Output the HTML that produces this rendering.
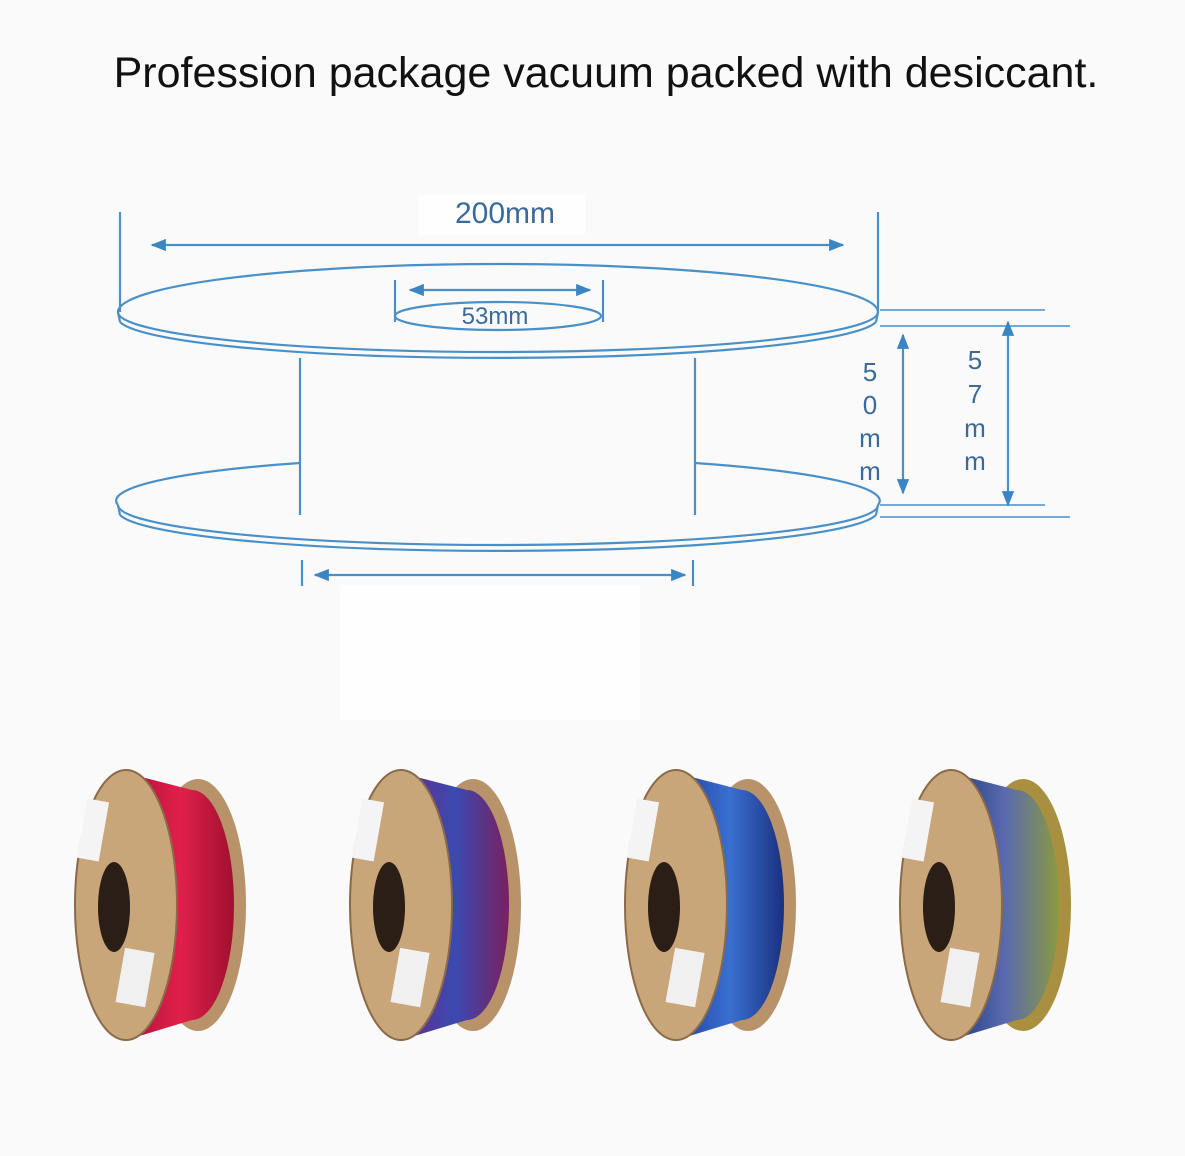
<!DOCTYPE html>
<html><head><meta charset="utf-8"><style>
html,body{margin:0;padding:0;background:#fafafa;}
svg{display:block;}
</style></head><body>
<svg width="1185" height="1156" viewBox="0 0 1185 1156" xmlns="http://www.w3.org/2000/svg">
<defs>
<marker id="a" viewBox="0 0 10 10" refX="9" refY="5" markerWidth="7" markerHeight="7" orient="auto-start-reverse"><path d="M0,1 L10,5 L0,9 z" fill="#3a86c4"/></marker>
<linearGradient id="f1" x1="0" x2="1"><stop offset="0" stop-color="#b0103a"/><stop offset=".5" stop-color="#e0204a"/><stop offset="1" stop-color="#a01030"/></linearGradient>
<linearGradient id="f2" x1="0" x2="1"><stop offset="0" stop-color="#6a2a8a"/><stop offset=".5" stop-color="#3a4ab0"/><stop offset="1" stop-color="#7a2060"/></linearGradient>
<linearGradient id="f3" x1="0" x2="1"><stop offset="0" stop-color="#2040a0"/><stop offset=".5" stop-color="#3a70d0"/><stop offset="1" stop-color="#1a3080"/></linearGradient>
<linearGradient id="f4" x1="0" x2="1"><stop offset="0" stop-color="#203a80"/><stop offset=".5" stop-color="#5a6ab0"/><stop offset="1" stop-color="#8a9a40"/></linearGradient>
</defs>
<rect width="1185" height="1156" fill="#fafafa"/>
<rect x="340" y="585" width="300" height="135" fill="#fefefe"/>
<rect x="418" y="195" width="167" height="40" fill="#fefefe"/>
<text x="606" y="87" font-family="Liberation Sans, sans-serif" font-size="43" text-anchor="middle" fill="#111">Profession package vacuum packed with desiccant.</text>
<g stroke="#4a90c8" stroke-width="2.2" fill="none">
<line x1="120" y1="212" x2="120" y2="312"/><line x1="878" y1="212" x2="878" y2="312"/>
<line x1="152" y1="245" x2="843" y2="245" marker-start="url(#a)" marker-end="url(#a)"/>
<path d="M118,312 A380,48 0 0 1 878,312"/>
<path d="M118,312 A380,40 0 0 0 878,312"/>
<path d="M120,322 A380,40 0 0 0 876,322"/>
<line x1="118" y1="312" x2="120" y2="322"/><line x1="878" y1="312" x2="876" y2="322"/>
<ellipse cx="498" cy="316" rx="103" ry="14"/>
<line x1="395" y1="280" x2="395" y2="322"/><line x1="603" y1="280" x2="603" y2="322"/>
<line x1="410" y1="290" x2="590" y2="290" marker-start="url(#a)" marker-end="url(#a)"/>
<line x1="300" y1="358" x2="300" y2="515"/><line x1="695" y1="358" x2="695" y2="515"/>
<path d="M118,505 A380,44 0 0 1 300,463"/><path d="M695,463 A380,44 0 0 1 878,505"/>
<path d="M118,505 A380,40 0 0 0 878,505"/>
<path d="M120,515 A380,40 0 0 0 876,515"/>
<line x1="118" y1="505" x2="120" y2="515"/><line x1="878" y1="505" x2="876" y2="515"/>
<line x1="302" y1="560" x2="302" y2="586"/><line x1="693" y1="560" x2="693" y2="586"/>
<line x1="315" y1="575" x2="685" y2="575" marker-start="url(#a)" marker-end="url(#a)"/>
<line x1="880" y1="310" x2="1045" y2="310" stroke-width="1.5"/><line x1="880" y1="326" x2="1070" y2="326" stroke-width="1.5"/>
<line x1="880" y1="505" x2="1045" y2="505" stroke-width="1.5"/><line x1="880" y1="517" x2="1070" y2="517" stroke-width="1.5"/>
<line x1="903" y1="335" x2="903" y2="493" marker-start="url(#a)" marker-end="url(#a)"/>
<line x1="1008" y1="322" x2="1008" y2="505" marker-start="url(#a)" marker-end="url(#a)"/>
</g>
<g font-family="Liberation Sans, sans-serif" fill="#3a6a9a" font-size="26" text-anchor="middle">
<text x="505" y="223" font-size="30">200mm</text>
<text x="495" y="324" font-size="24">53mm</text>
<text x="870" y="381">5</text><text x="870" y="414">0</text><text x="870" y="447">m</text><text x="870" y="480">m</text>
<text x="975" y="369">5</text><text x="975" y="403">7</text><text x="975" y="437">m</text><text x="975" y="470">m</text>
</g>
<g transform="translate(0,0)">
<ellipse cx="198" cy="905" rx="48" ry="126" fill="#b8936a"/>
<path d="M126,773 L192,790 A42,115 0 0 1 192,1020 L126,1040 Z" fill="url(#f1)"/>
<ellipse cx="126" cy="905" rx="51" ry="135" fill="#c9a57a" stroke="#8a6a48" stroke-width="2"/>
<ellipse cx="114" cy="907" rx="16" ry="45" fill="#2a1e16"/>
<rect x="82" y="800" width="22" height="60" fill="#f4f4f4" transform="rotate(10 93 830)"/>
<rect x="120" y="950" width="30" height="55" fill="#f0f0f0" transform="rotate(10 135 978)"/>
</g>
<g transform="translate(275,0)">
<ellipse cx="198" cy="905" rx="48" ry="126" fill="#b8936a"/>
<path d="M126,773 L192,790 A42,115 0 0 1 192,1020 L126,1040 Z" fill="url(#f2)"/>
<ellipse cx="126" cy="905" rx="51" ry="135" fill="#c9a57a" stroke="#8a6a48" stroke-width="2"/>
<ellipse cx="114" cy="907" rx="16" ry="45" fill="#2a1e16"/>
<rect x="82" y="800" width="22" height="60" fill="#f4f4f4" transform="rotate(10 93 830)"/>
<rect x="120" y="950" width="30" height="55" fill="#f0f0f0" transform="rotate(10 135 978)"/>
</g>
<g transform="translate(550,0)">
<ellipse cx="198" cy="905" rx="48" ry="126" fill="#b8936a"/>
<path d="M126,773 L192,790 A42,115 0 0 1 192,1020 L126,1040 Z" fill="url(#f3)"/>
<ellipse cx="126" cy="905" rx="51" ry="135" fill="#c9a57a" stroke="#8a6a48" stroke-width="2"/>
<ellipse cx="114" cy="907" rx="16" ry="45" fill="#2a1e16"/>
<rect x="82" y="800" width="22" height="60" fill="#f4f4f4" transform="rotate(10 93 830)"/>
<rect x="120" y="950" width="30" height="55" fill="#f0f0f0" transform="rotate(10 135 978)"/>
</g>
<g transform="translate(825,0)">
<ellipse cx="198" cy="905" rx="48" ry="126" fill="#a89040"/>
<path d="M126,773 L192,790 A42,115 0 0 1 192,1020 L126,1040 Z" fill="url(#f4)"/>
<ellipse cx="126" cy="905" rx="51" ry="135" fill="#c9a57a" stroke="#8a6a48" stroke-width="2"/>
<ellipse cx="114" cy="907" rx="16" ry="45" fill="#2a1e16"/>
<rect x="82" y="800" width="22" height="60" fill="#f4f4f4" transform="rotate(10 93 830)"/>
<rect x="120" y="950" width="30" height="55" fill="#f0f0f0" transform="rotate(10 135 978)"/>
</g>
</svg>
</body></html>
